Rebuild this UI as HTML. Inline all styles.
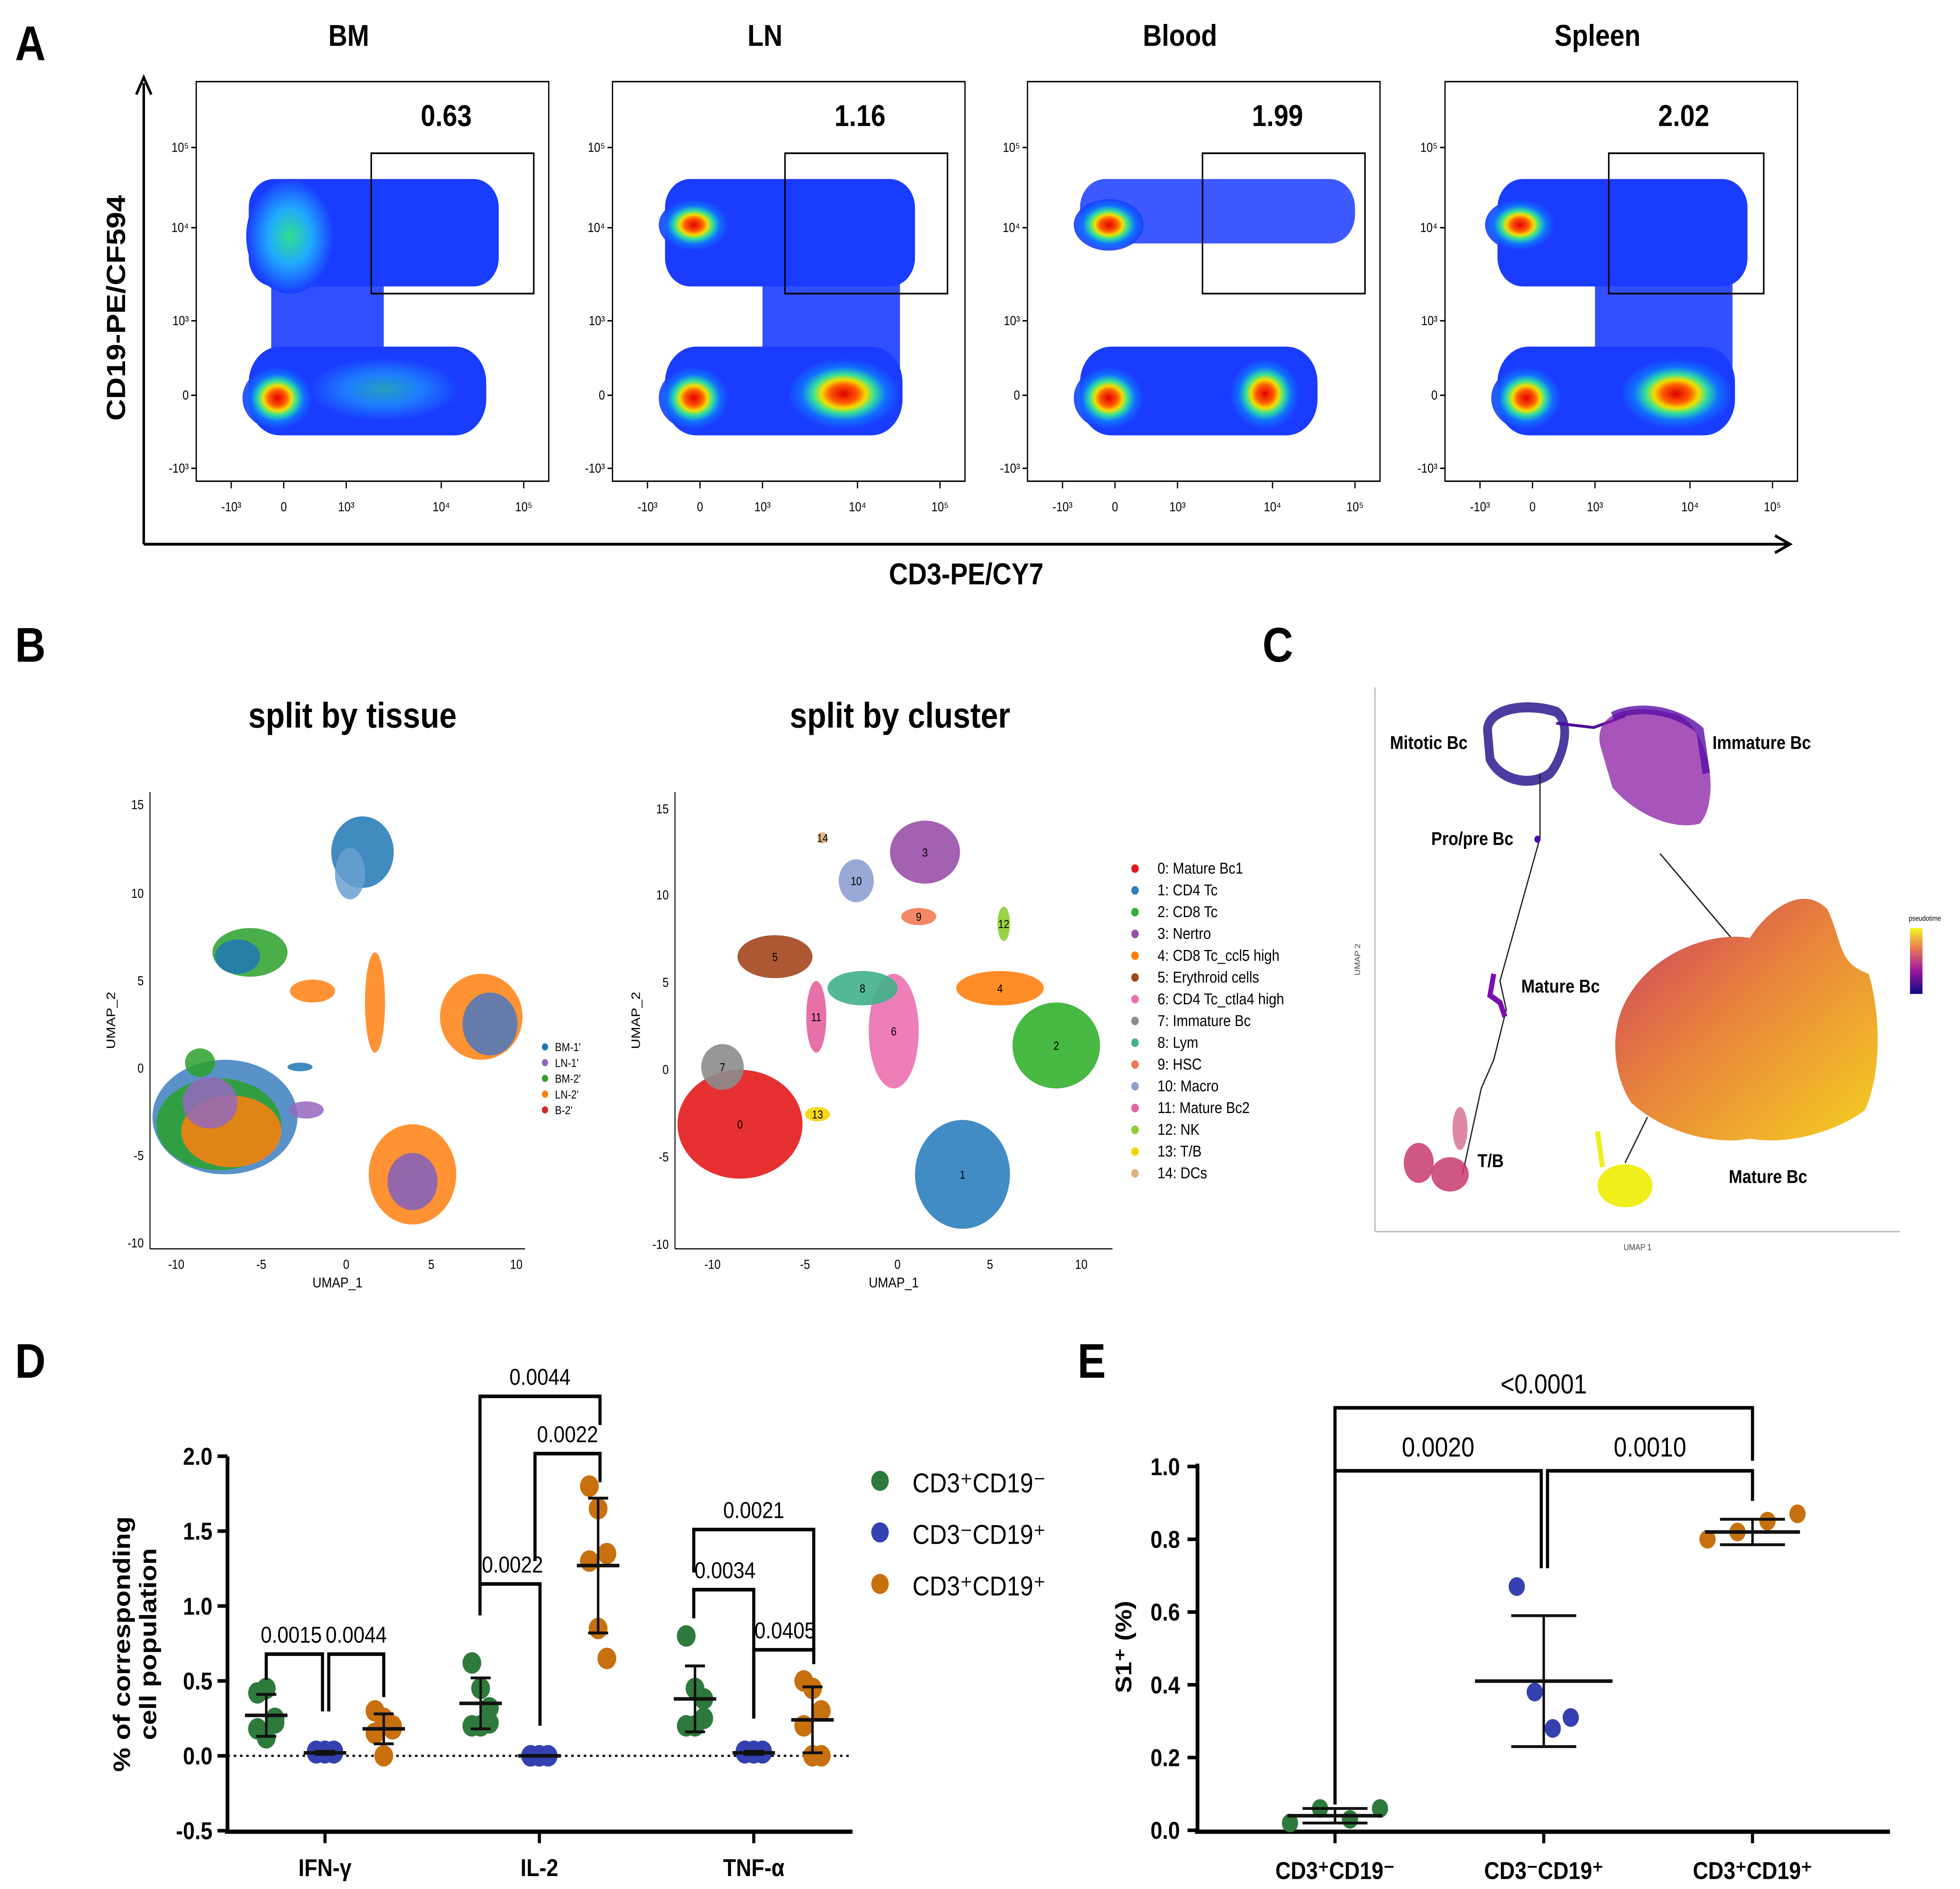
<!DOCTYPE html>
<html><head><meta charset="utf-8"><style>
html,body{margin:0;padding:0;background:#fff;overflow:hidden;}
svg{display:block;font-family:"Liberation Sans",Arial,sans-serif;width:100vw;height:100vh;}
</style></head><body>
<svg id="fig" viewBox="0 0 1568 1319" preserveAspectRatio="none" xmlns="http://www.w3.org/2000/svg">
<defs>
<radialGradient id="dens"><stop offset="0" stop-color="#e00000"/><stop offset="0.25" stop-color="#ff5a00"/><stop offset="0.4" stop-color="#f0e000"/><stop offset="0.55" stop-color="#30e0a0"/><stop offset="0.75" stop-color="#1070ff"/><stop offset="1" stop-color="#1a3cff" stop-opacity="0.9"/></radialGradient>
<radialGradient id="densG"><stop offset="0" stop-color="#30e090"/><stop offset="0.5" stop-color="#20a8ff"/><stop offset="1" stop-color="#1a3cff"/></radialGradient>
<linearGradient id="pt" x1="0" y1="1" x2="0" y2="0"><stop offset="0" stop-color="#0d0887"/><stop offset="0.35" stop-color="#9c179e"/><stop offset="0.7" stop-color="#ed7953"/><stop offset="1" stop-color="#f0f921"/></linearGradient>
<linearGradient id="mat" x1="0" y1="0" x2="1" y2="1"><stop offset="0" stop-color="#c83c64"/><stop offset="0.45" stop-color="#e8823c"/><stop offset="1" stop-color="#f5d020"/></linearGradient>
</defs>

<g font-weight="bold" font-size="34">
<text x="12" y="42">A</text><text x="12" y="462">B</text><text x="1010" y="462">C</text><text x="12" y="962">D</text><text x="862" y="962">E</text>
</g>

<g>
<line x1="115" y1="380" x2="115" y2="58" stroke="#000" stroke-width="2"/>
<path d="M109,66 L115,54 L121,66" fill="none" stroke="#000" stroke-width="2"/>
<line x1="115" y1="380" x2="1430" y2="380" stroke="#000" stroke-width="2"/>
<path d="M1420,374 L1432,380 L1420,386" fill="none" stroke="#000" stroke-width="2"/>
<text x="100" y="215" transform="rotate(-90 100 215)" text-anchor="middle" font-size="21" font-weight="bold">CD19-PE/CF594</text>
<text x="773" y="408" text-anchor="middle" font-size="21" font-weight="bold">CD3-PE/CY7</text>
</g>
<g id="flow"></g>

<g>
<text x="282" y="508" text-anchor="middle" font-size="25" font-weight="bold">split by tissue</text>
<text x="720" y="508" text-anchor="middle" font-size="25" font-weight="bold">split by cluster</text>
</g>
<g id="umaps"></g>

<g>
<line x1="1100" y1="480" x2="1100" y2="860" stroke="#bbb" stroke-width="1"/>
<line x1="1100" y1="860" x2="1520" y2="860" stroke="#bbb" stroke-width="1"/>
<text x="1310" y="873" font-size="6" text-anchor="middle" fill="#444">UMAP 1</text>
<text x="1088" y="670" font-size="6" transform="rotate(-90 1088 670)" text-anchor="middle" fill="#444">UMAP 2</text>
<path d="M1190,510 C1190,495 1220,490 1245,497 C1258,505 1250,530 1240,540 C1225,550 1200,545 1192,530Z" fill="none" stroke="#2a1a90" stroke-width="7" opacity="0.85"/>
<path d="M1245,505 L1275,508 L1300,500" fill="none" stroke="#4a10a0" stroke-width="2"/>
<path d="M1280,520 C1275,495 1310,490 1345,500 C1370,515 1375,560 1360,575 C1340,580 1310,570 1290,550Z" fill="#8a1ca4" opacity="0.75"/>
<path d="M1290,500 C1310,492 1340,495 1360,510 L1365,540" fill="none" stroke="#5a0ca8" stroke-width="6" opacity="0.8"/>
<polyline points="1232,540 1232,585 1200,685 1205,705 1195,740 1185,760 1175,800 1170,820" fill="none" stroke="#222" stroke-width="1"/>
<polyline points="1328,596 1390,660" fill="none" stroke="#222" stroke-width="1"/>
<polyline points="1318,780 1300,812" fill="none" stroke="#222" stroke-width="1"/>
<circle cx="1230" cy="586" r="2.5" fill="#4b0cb0"/>
<path d="M1195,680 L1192,695 L1200,700 L1204,710" fill="none" stroke="#7a10b0" stroke-width="4"/>
<ellipse cx="1135" cy="812" rx="12" ry="14" fill="#c8386e" opacity="0.85"/>
<ellipse cx="1160" cy="820" rx="15" ry="12" fill="#c8386e" opacity="0.85"/>
<ellipse cx="1168" cy="788" rx="6" ry="15" fill="#c8386e" opacity="0.6"/>
<path d="M1300,700 C1320,665 1370,650 1400,655 C1410,640 1440,615 1462,635 C1475,660 1470,672 1495,680 C1505,710 1505,750 1492,775 C1470,790 1430,800 1400,795 C1370,800 1330,790 1305,770 C1290,750 1288,720 1300,700Z" fill="url(#mat)"/>
<ellipse cx="1300" cy="828" rx="22" ry="15" fill="#f0ef1c"/>
<path d="M1278,790 L1282,815" stroke="#f0ef1c" stroke-width="4"/>
<g font-size="13" font-weight="bold">
<text x="1112" y="523">Mitotic Bc</text><text x="1370" y="523">Immature Bc</text>
<text x="1145" y="590">Pro/pre Bc</text><text x="1217" y="693">Mature Bc</text>
<text x="1182" y="815">T/B</text><text x="1383" y="826">Mature Bc</text></g>
<rect x="1528" y="648" width="10" height="46" fill="url(#pt)"/>
<text x="1527" y="643" font-size="5">pseudotime</text>
</g>

<g id="panelD"></g>
<g id="panelE"></g>
</svg>

<script>
const NS="http://www.w3.org/2000/svg";
function mk(p,t,a,txt){const e=document.createElementNS(NS,t);for(const k in a)e.setAttribute(k,a[k]);if(txt!==undefined)e.textContent=txt;p.appendChild(e);return e;}

/* ---------- Panel A flow plots ---------- */
const flowTissues=["BM","LN","Blood","Spleen"];
const flowPct=["0.63","1.16","1.99","2.02"];
const flowLeft=[157,490,822,1156];
const flowG=document.getElementById('flow');
flowTissues.forEach((t,i)=>{
  const x0=flowLeft[i];
  const g=mk(flowG,'g',{});
  
  
  mk(g,'text',{x:x0+122,y:32,'text-anchor':'middle','font-size':21,'font-weight':'bold'},t);
  mk(g,'rect',{x:x0,y:57,width:282,height:279,fill:'none',stroke:'#000','stroke-width':1});
  mk(g,'rect',{x:x0+42,y:242,width:190,height:62,rx:25,fill:'#1a3cff'});
  mk(g,'rect',{x:x0+42,y:125,width:(i==2?220:200),height:(i==2?45:75),rx:20,fill:'#1a3cff',opacity:i==2?0.85:1});
  if(i!=2) mk(g,'rect',{x:x0+(i==0?60:120),y:190,width:(i==0?90:110),height:70,fill:'#1a3cff',opacity:0.9});
  const bFill=i==0?'url(#densG)':'url(#dens)';
  mk(g,'ellipse',{cx:x0+(i==0?75:i==1?65:i==2?65:60),cy:(i==0?165:157),rx:(i==0?35:28),ry:(i==0?40:18),fill:bFill});
  mk(g,'ellipse',{cx:x0+65,cy:278,rx:28,ry:22,fill:'url(#dens)'});
  if(i>0) mk(g,'ellipse',{cx:x0+(i==1?185:i==2?190:185),cy:275,rx:(i==2?28:45),ry:25,fill:'url(#dens)'});
  if(i==0) mk(g,'ellipse',{cx:x0+150,cy:272,rx:60,ry:22,fill:'url(#densG)',opacity:0.6});
  const gx=[297,628,962,1287][i], gw=[130,130,130,124][i];
  mk(g,'rect',{x:gx,y:107,width:gw,height:98,fill:'none',stroke:'#000','stroke-width':1.2});
  mk(g,'text',{x:gx+60,y:88,'text-anchor':'middle','font-size':21,'font-weight':'bold'},flowPct[i]);
  [["10\u2075",106],["10\u2074",162],["10\u00b3",227],["0",279],["-10\u00b3",330]].forEach(([l,y])=>{
    mk(g,'text',{x:x0-6,y:y,'text-anchor':'end','font-size':9},l);
    mk(g,'line',{x1:x0-4,y1:y-3,x2:x0,y2:y-3,stroke:'#000'});
  });
  [["-10\u00b3",28],["0",70],["10\u00b3",120],["10\u2074",196],["10\u2075",262]].forEach(([l,x])=>{
    mk(g,'text',{x:x0+x,y:357,'text-anchor':'middle','font-size':9},l);
    mk(g,'line',{x1:x0+x,y1:336,x2:x0+x,y2:341,stroke:'#000'});
  });
});

/* ---------- Panel B UMAPs ---------- */
const U=document.getElementById('umaps');
function umapAxes(x0,x1,y0,y1,xt,yt){
  const g=mk(U,'g',{});
  
  
  mk(g,'line',{x1:x0,y1:y0,x2:x0,y2:y1,stroke:'#000','stroke-width':0.8});
  mk(g,'line',{x1:x0,y1:y1,x2:x1,y2:y1,stroke:'#000','stroke-width':0.8});
  yt.forEach(([l,y])=>mk(g,'text',{x:x0-5,y:y+3,'text-anchor':'end','font-size':9},l));
  xt.forEach(([l,x])=>mk(g,'text',{x:x,y:y1+14,'text-anchor':'middle','font-size':9},l));
  mk(g,'text',{x:(x0+x1)/2,y:y1+27,'text-anchor':'middle','font-size':10},'UMAP_1');
  mk(g,'text',{x:x0-28,y:(y0+y1)/2,'text-anchor':'middle','font-size':10,transform:`rotate(-90 ${x0-28} ${(y0+y1)/2})`},'UMAP_2');
}
umapAxes(120,420,553,872,[["-10",141],["-5",209],["0",277],["5",345],["10",413]],[["15",562],["10",624],["5",685],["0",746],["-5",807],["-10",868]]);
umapAxes(540,890,553,872,[["-10",570],["-5",644],["0",718],["5",792],["10",865]],[["15",565],["10",625],["5",686],["0",747],["-5",808],["-10",869]]);
[[180,780,58,40,'#3b7fc0'],[175,785,50,32,'#2ca02c'],[185,790,40,25,'#ff7f0e'],[168,770,22,18,'#9467bd'],
 [200,665,30,17,'#2ca02c'],[190,668,18,12,'#1f77b4'],[290,595,25,25,'#1f77b4'],[280,610,12,18,'#6aa0d0'],
 [385,710,33,30,'#ff7f0e'],[392,715,22,22,'#4a78c0'],[330,820,35,35,'#ff7f0e'],[330,825,20,20,'#8060c0'],
 [300,700,8,35,'#ff7f0e'],[250,692,18,8,'#ff7f0e'],[160,742,12,10,'#2ca02c'],[240,745,10,3,'#1f77b4'],[245,775,14,6,'#9467bd']]
 .forEach(b=>{const e=mk(U,'ellipse',{cx:b[0],cy:b[1],rx:b[2],ry:b[3],fill:b[4],opacity:0.85});});
const tissueLabels=["BM-1'","LN-1'","BM-2'","LN-2'","B-2'"];
const tissueColors=["#1f77b4","#9467bd","#2ca02c","#ff7f0e","#d62728"];
tissueLabels.forEach((l,i)=>{mk(U,'circle',{cx:436,cy:731+i*11,r:2.5,fill:tissueColors[i]});mk(U,'text',{x:444,y:734+i*11,'font-size':8},l);});
const clusterNames=["Mature Bc1","CD4 Tc","CD8 Tc","Nertro","CD8 Tc_ccl5 high","Erythroid cells","CD4 Tc_ctla4 high","Immature Bc","Lym","HSC","Macro","Mature Bc2","NK","T/B","DCs"];
const clusterColors=["#e41a1c","#2e7fbf","#33b02c","#9a4fa8","#ff7f0e","#a3461d","#ec70b0","#8c8c8c","#3fb08a","#f27a55","#8ea0d0","#e460a0","#8ccf30","#f5d300","#e0b080"];
const clusterPos=[[592,785,50,38],[770,820,38,38],[845,730,35,30],[740,595,28,22],[800,690,35,12],[620,668,30,15],[715,720,20,40],[578,745,17,16],[690,690,28,12],[735,640,14,6],[685,615,14,15],[653,710,8,25],[803,645,5,12],[654,778,10,5],[658,585,4,4]];
clusterPos.forEach((p,i)=>{const e=mk(U,'ellipse',{cx:p[0],cy:p[1],rx:p[2],ry:p[3],fill:clusterColors[i],opacity:0.9});mk(U,'text',{x:p[0],y:p[1]+3,'font-size':8,'text-anchor':'middle'},String(i));});
clusterNames.forEach((n,i)=>{const y=610+i*15.2;mk(U,'circle',{cx:908,cy:y-3.5,r:3,fill:clusterColors[i]});mk(U,'text',{x:926,y:y,'font-size':11},i+":  "+n);});

/* ---------- Panel D ---------- */
const dCategories=["IFN-\u03b3","IL-2","TNF-\u03b1"];
const dGroups=["CD3\u207aCD19\u207b","CD3\u207bCD19\u207a","CD3\u207aCD19\u207a"];
const dGreen=[[0.42,0.45,0.25,0.18,0.12,0.22],[0.62,0.45,0.32,0.2,0.2,0.22],[0.8,0.45,0.38,0.2,0.2,0.25]];
const dBlue=[[0.03,0.02,0.03,0.02,0.03,0.02],[0,0,0,0,0,0],[0.03,0.02,0.03,0.02,0.03,0.02]];
const dOrange=[[0.3,0.25,0.2,0.15,0.0,0.18],[1.8,1.65,1.35,1.3,0.85,0.65],[0.5,0.45,0.3,0.2,0.0,0.0]];
const dMean=[[0.27,0.02,0.18],[0.35,0.0,1.27],[0.38,0.02,0.24]];
const dSd=[[0.14,0.01,0.1],[0.17,0.0,0.45],[0.22,0.01,0.22]];
const dTicks=[-0.5,0,0.5,1,1.5,2];
const dColors=["#2e7a3c","#3440b0","#c8700e"];
const D=document.getElementById('panelD');
const dy=v=>1226-v*104.6;
const dx=(c,g)=>260+c*171.5+(g-1)*47;
mk(D,'line',{x1:182,y1:1017,x2:182,y2:1279,stroke:'#000','stroke-width':3});
mk(D,'line',{x1:180,y1:1279,x2:682,y2:1279,stroke:'#000','stroke-width':3});
mk(D,'line',{x1:182,y1:dy(0),x2:682,y2:dy(0),stroke:'#000','stroke-width':1.5,'stroke-dasharray':'2,3'});
dTicks.forEach(t=>{mk(D,'line',{x1:174,y1:dy(t),x2:182,y2:dy(t),stroke:'#000','stroke-width':2.5});mk(D,'text',{x:170,y:dy(t)+6,'text-anchor':'end','font-size':17,'font-weight':'bold'},t.toFixed(1));});
dCategories.forEach((c,ci)=>{
  mk(D,'line',{x1:dx(ci,1),y1:1279,x2:dx(ci,1),y2:1287,stroke:'#000','stroke-width':2.5});
  mk(D,'text',{x:dx(ci,1),y:1310,'text-anchor':'middle','font-size':17,'font-weight':'bold'},c);
  [dGreen,dBlue,dOrange].forEach((arr,gi)=>{
    arr[ci].forEach((v,k)=>{const p=mk(D,'circle',{cx:dx(ci,gi)+(k%3-1)*7,cy:dy(v),r:7.5,fill:dColors[gi]});
      });
    const m=dMean[ci][gi],s=dSd[ci][gi],x=dx(ci,gi);
    mk(D,'line',{x1:x-17,y1:dy(m),x2:x+17,y2:dy(m),stroke:'#111','stroke-width':2.5});
    mk(D,'line',{x1:x,y1:dy(m-s),x2:x,y2:dy(m+s),stroke:'#111','stroke-width':2});
    mk(D,'line',{x1:x-8,y1:dy(m-s),x2:x+8,y2:dy(m-s),stroke:'#111','stroke-width':2});
    mk(D,'line',{x1:x-8,y1:dy(m+s),x2:x+8,y2:dy(m+s),stroke:'#111','stroke-width':2});
  });
});
mk(D,'text',{x:104,y:1148,'text-anchor':'middle','font-size':19,'font-weight':'bold',transform:'rotate(-90 104 1148)'},'% of corresponding');
mk(D,'text',{x:125,y:1148,'text-anchor':'middle','font-size':19,'font-weight':'bold',transform:'rotate(-90 125 1148)'},'cell population');
const dBr=[[213,258,1155,1173,1195,"0.0015",233],[263,307,1155,1195,1185,"0.0044",285],[384,432,1106,1128,1205,"0.0022",410],[384,480,975,1115,995,"0.0044",432],[428,480,1015,1090,1035,"0.0022",454],[555,603,1110,1130,1200,"0.0034",580],[555,651,1068,1098,1152,"0.0021",603],[603,651,1152,1200,1162,"0.0405",628]];
dBr.forEach(b=>{mk(D,'path',{d:`M${b[0]},${b[3]} L${b[0]},${b[2]} L${b[1]},${b[2]} L${b[1]},${b[4]}`,fill:'none',stroke:'#000','stroke-width':2.5});mk(D,'text',{x:b[6],y:b[2]-8,'text-anchor':'middle','font-size':16},b[5]);});
dGroups.forEach((g,i)=>{mk(D,'circle',{cx:704,cy:1034+i*36,r:7,fill:dColors[i]});mk(D,'text',{x:730,y:1042+i*36,'font-size':19},g);});

/* ---------- Panel E ---------- */
const eCategories=["CD3\u207aCD19\u207b","CD3\u207bCD19\u207a","CD3\u207aCD19\u207a"];
const eValues=[[0.02,0.06,0.03,0.06],[0.67,0.38,0.28,0.31],[0.8,0.82,0.85,0.87]];
const eMean=[0.04,0.41,0.82];
const eSd=[0.02,0.18,0.035];
const eTicks=[0,0.2,0.4,0.6,0.8,1.0];
const E=document.getElementById('panelE');
const ey=v=>1278-v*254;
const ex=c=>1068+c*167;
mk(E,'line',{x1:958,y1:1022,x2:958,y2:1279,stroke:'#000','stroke-width':3});
mk(E,'line',{x1:956,y1:1279,x2:1512,y2:1279,stroke:'#000','stroke-width':3});
eTicks.forEach(t=>{mk(E,'line',{x1:950,y1:ey(t),x2:958,y2:ey(t),stroke:'#000','stroke-width':2.5});mk(E,'text',{x:944,y:ey(t)+6,'text-anchor':'end','font-size':17,'font-weight':'bold'},t.toFixed(1));});
mk(E,'text',{x:905,y:1150,'text-anchor':'middle','font-size':18,'font-weight':'bold',transform:'rotate(-90 905 1150)'},'S1\u207a (%)');
eCategories.forEach((c,ci)=>{
  mk(E,'line',{x1:ex(ci),y1:1279,x2:ex(ci),y2:1287,stroke:'#000','stroke-width':2.5});
  mk(E,'text',{x:ex(ci),y:1312,'text-anchor':'middle','font-size':17,'font-weight':'bold'},c);
  eValues[ci].forEach((v,k)=>{const p=mk(E,'circle',{cx:ex(ci)+(k-1.5)*24*(ci==1?0.6:1),cy:ey(v),r:6.5,fill:dColors[ci]});
    });
  const m=eMean[ci],s=eSd[ci],x=ex(ci),w=ci==1?55:38;
  mk(E,'line',{x1:x-w,y1:ey(m),x2:x+w,y2:ey(m),stroke:'#111','stroke-width':2.5});
  mk(E,'line',{x1:x,y1:ey(m-s),x2:x,y2:ey(m+s),stroke:'#111','stroke-width':2});
  mk(E,'line',{x1:x-26,y1:ey(m-s),x2:x+26,y2:ey(m-s),stroke:'#111','stroke-width':2});
  mk(E,'line',{x1:x-26,y1:ey(m+s),x2:x+26,y2:ey(m+s),stroke:'#111','stroke-width':2});
});
const eBr=[[1068,1402,983,1260,1020,"<0.0001"],[1068,1233,1027,1260,1095,"0.0020"],[1238,1402,1027,1095,1048,"0.0010"]];
eBr.forEach(b=>{mk(E,'path',{d:`M${b[0]},${b[3]} L${b[0]},${b[2]} L${b[1]},${b[2]} L${b[1]},${b[4]}`,fill:'none',stroke:'#000','stroke-width':2.5});mk(E,'text',{x:(b[0]+b[1])/2,y:b[2]-10,'text-anchor':'middle','font-size':19},b[5]);});
</script>
</body></html>
